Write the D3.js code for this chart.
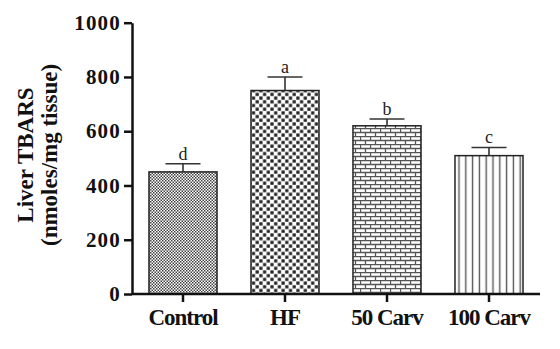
<!DOCTYPE html>
<html><head><meta charset="utf-8">
<script src="https://cdn.jsdelivr.net/npm/d3@7"></script>
<style>body{margin:0;background:#fff;} svg{display:block;}</style>
</head><body>
<svg id="c" width="560" height="349"></svg>
<script>
const categories = ["Control", "HF", "50 Carv", "100 Carv"];
const means = [450, 750, 620, 510];
const errors = [30, 50, 25, 30];
const letters = ["d", "a", "b", "c"];
const yTicks = [0, 200, 400, 600, 800, 1000];
const patterns = ["pFine", "pChk", "pBrick", "pVert"];

const svg = d3.select("#c");
const defs = svg.append("defs");
// fine checker
let p = defs.append("pattern").attr("id","pFine").attr("patternUnits","userSpaceOnUse").attr("width",3).attr("height",3);
p.append("rect").attr("width",3).attr("height",3).attr("fill","#fff");
p.append("rect").attr("x",0).attr("y",0).attr("width",1.5).attr("height",1.5).attr("fill","#444");
p.append("rect").attr("x",1.5).attr("y",1.5).attr("width",1.5).attr("height",1.5).attr("fill","#444");
// coarse checker
p = defs.append("pattern").attr("id","pChk").attr("patternUnits","userSpaceOnUse").attr("width",7.4).attr("height",7.4);
p.append("rect").attr("width",7.4).attr("height",7.4).attr("fill","#fff");
p.append("rect").attr("x",0.3).attr("y",0.3).attr("width",3.2).attr("height",3.2).attr("fill","#222");
p.append("rect").attr("x",4).attr("y",4).attr("width",3.2).attr("height",3.2).attr("fill","#222");
// brick
p = defs.append("pattern").attr("id","pBrick").attr("patternUnits","userSpaceOnUse").attr("width",10).attr("height",8);
p.append("rect").attr("width",10).attr("height",8).attr("fill","#fff");
p.append("path").attr("d","M0,0.5H10M0,4.5H10M0.5,0V4M5.5,4V8").attr("stroke","#555").attr("stroke-width",1.3).attr("fill","none");
// vertical lines
p = defs.append("pattern").attr("id","pVert").attr("patternUnits","userSpaceOnUse").attr("width",6.8).attr("height",10);
p.append("rect").attr("width",6.8).attr("height",10).attr("fill","#fff");
p.append("line").attr("x1",3.4).attr("x2",3.4).attr("y1",0).attr("y2",10).attr("stroke","#555").attr("stroke-width",1.4);

const x = d3.scaleBand().domain(categories).range([132, 540]).paddingInner(0.333).paddingOuter(0.1665);
const y = d3.scaleLinear().domain([0, 1000]).range([294, 22.7]);

const data = categories.map((c,i)=>({c, m:means[i], e:errors[i], l:letters[i], p:patterns[i]}));

// bars
svg.selectAll("rect.bar").data(data).enter().append("rect")
  .attr("class","bar")
  .attr("x", d=>x(d.c)).attr("width", x.bandwidth())
  .attr("y", d=>y(d.m)).attr("height", d=>y(0)-y(d.m))
  .attr("fill", d=>`url(#${d.p})`).attr("stroke","#222").attr("stroke-width",1.5);

// error bars
const cap = 17.5;
data.forEach(d=>{
  const cx = x(d.c)+x.bandwidth()/2;
  svg.append("line").attr("x1",cx).attr("x2",cx).attr("y1",y(d.m)).attr("y2",y(d.m+d.e)).attr("stroke","#333").attr("stroke-width",1.6);
  svg.append("line").attr("x1",cx-cap).attr("x2",cx+cap).attr("y1",y(d.m+d.e)).attr("y2",y(d.m+d.e)).attr("stroke","#333").attr("stroke-width",1.6);
  svg.append("text").attr("x",cx).attr("y",y(d.m+d.e)-4).attr("text-anchor","middle")
    .attr("font-family","Liberation Serif").attr("font-size",18).attr("fill","#222").text(d.l);
});

// y axis
const ya = svg.append("g").attr("transform","translate(132,0)")
  .call(d3.axisLeft(y).tickValues(yTicks).tickFormat(d3.format("d")).tickSize(8).tickPadding(3).tickSizeOuter(0));
ya.select(".domain").attr("stroke","#111").attr("stroke-width",2.5);
ya.selectAll(".tick line").attr("stroke","#111").attr("stroke-width",2.5);
ya.selectAll(".tick text").attr("font-family","Liberation Serif").attr("font-weight","bold")
  .attr("font-size",21).attr("fill","#111").attr("letter-spacing","1.2");

// x axis
const xa = svg.append("g").attr("transform","translate(0,294)")
  .call(d3.axisBottom(x).tickSize(8).tickPadding(5).tickSizeOuter(0));
xa.select(".domain").attr("stroke","#111").attr("stroke-width",2.5).attr("d","M132,0H540");
xa.selectAll(".tick line").attr("stroke","#111").attr("stroke-width",2.5);
xa.selectAll(".tick text").attr("font-family","Liberation Serif").attr("font-weight","bold")
  .attr("font-size",23).attr("fill","#111").attr("letter-spacing","-1").attr("dy","0.8em");

// y title
const t = svg.append("text").attr("transform","translate(33,155) rotate(-90)").attr("text-anchor","middle")
  .attr("font-family","Liberation Serif").attr("font-weight","bold").attr("font-size",23).attr("fill","#111");
t.append("tspan").attr("x",0).attr("dy",0).text("Liver TBARS");
t.append("tspan").attr("x",0).attr("dy",24).text("(nmoles/mg tissue)");
</script>
</body></html>
